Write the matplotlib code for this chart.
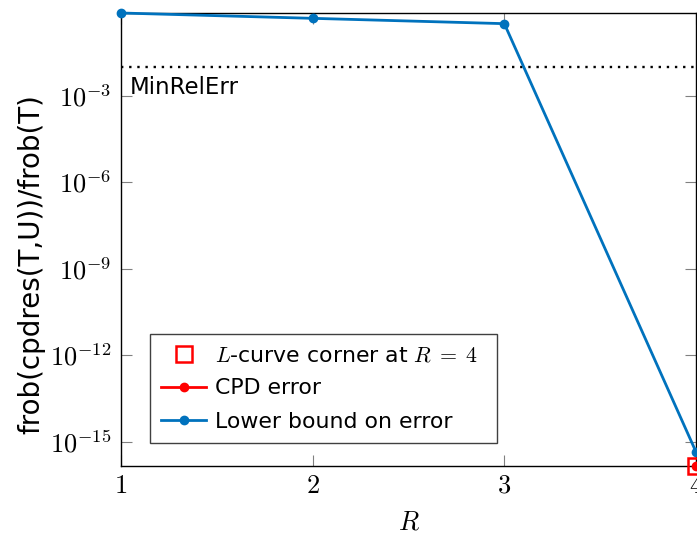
import matplotlib
matplotlib.use("Agg")
import matplotlib.pyplot as plt
import numpy as np

# Data
R = [1, 2, 3, 4]
lower_bound = [10**-0.12, 10**-0.305, 10**-0.49, 10**-15.35]
cpd_error = [np.nan, np.nan, np.nan, 10**-15.84]
corner_R = [4]
corner_err = [10**-15.84]
min_rel_err = 1e-2
yticks = [1e-3, 1e-6, 1e-9, 1e-12, 1e-15]
ytick_labels = [r"$10^{-3}$", r"$10^{-6}$", r"$10^{-9}$", r"$10^{-12}$", r"$10^{-15}$"]
xticks = [1, 2, 3, 4]

plt.rcParams['mathtext.fontset'] = 'cm'
plt.rcParams['font.family'] = ['DejaVu Sans']

blue = '#0072BD'
red = '#FF0000'

fig = plt.figure(figsize=(6.97, 5.38), dpi=100)
ax = fig.add_axes([121/697, 1-466/538, (696-121)/697, (466-13)/538])

ax.set_yscale('log')
ax.axhline(min_rel_err, color='black', lw=1.7, linestyle=(0, (1, 2.45)), zorder=2)

l_cpd, = ax.plot(R, cpd_error, color=red, lw=2, marker='o', ms=6, clip_on=False, zorder=3,
                 label='CPD error')
l_lb, = ax.plot(R, lower_bound, color=blue, lw=2, marker='o', ms=6, clip_on=False, zorder=4,
                label='Lower bound on error')
l_sq, = ax.plot(corner_R, corner_err, linestyle='none', marker='s', ms=12, mfc='none',
                mec=red, mew=1.8, clip_on=False, zorder=5,
                label=r'$L$-curve corner at $R\;=\;4$')

ax.set_xlim(1, 4)
ax.set_ylim(corner_err[0], lower_bound[0])
ax.set_xticks(xticks)
ax.set_xticklabels([rf"${v}$" for v in xticks], fontsize=19)
ax.set_yticks(yticks)
ax.set_yticklabels(ytick_labels, fontsize=19)
ax.minorticks_off()
ax.tick_params(direction='in', length=8, width=0.8, color='0.5', top=True, right=True)
ax.tick_params(axis='x', pad=5)
ax.tick_params(axis='y', pad=7)
for s in ax.spines.values():
    s.set_linewidth(1.0)
    s.set_color('black')

ax.text((130-121)/575, (466-94)/453, 'MinRelErr', fontsize=16.5, transform=ax.transAxes,
        va='baseline', ha='left')

ax.set_xlabel(r'$R$', fontsize=19)
ax.xaxis.set_label_coords(0.5, (466-510)/453)
ax.set_ylabel('frob(cpdres(T,U))/frob(T)', fontsize=20)
ax.yaxis.set_label_coords((45-121)/575, (466-264)/453)

leg = ax.legend(handles=[l_sq, l_cpd, l_lb], loc='lower left',
                bbox_to_anchor=(29/575, 23/453, (497-150)/575, 0.2), mode='expand',
                borderaxespad=0, fontsize=15.8, numpoints=1, handlelength=2.05,
                handletextpad=0.4, labelspacing=0.6, borderpad=0.52, fancybox=False,
                framealpha=1, edgecolor='0.25')
leg.get_frame().set_linewidth(1.0)

fig.savefig('out.png', dpi=100)
